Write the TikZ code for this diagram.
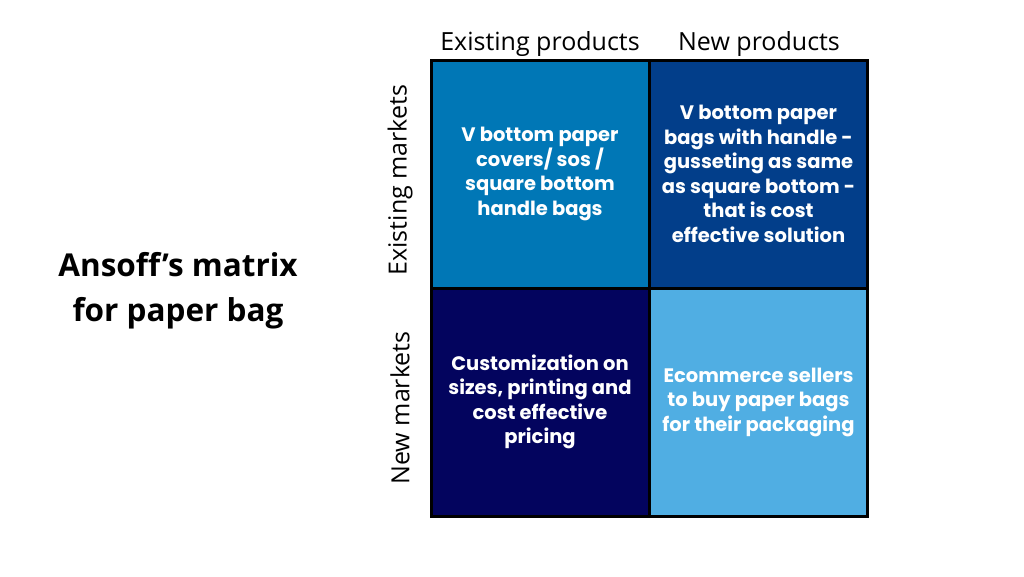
\documentclass[tikz,border=0pt]{standalone}
\usepackage{fontspec}
\setmainfont{Open Sans}
\newfontfamily\cellfont{Poppins}
\definecolor{cTL}{RGB}{0,119,182}
\definecolor{cTR}{RGB}{2,62,138}
\definecolor{cBL}{RGB}{3,4,94}
\definecolor{cBR}{RGB}{80,174,227}
\begin{document}
\begin{tikzpicture}[x=1pt,y=-1pt,
  cell/.style={draw=black,line width=3pt,minimum width=218pt,minimum height=228pt,inner sep=0pt,
    text=white,align=center,font=\cellfont\bfseries\fontsize{19.5}{24.5}\selectfont},
  head/.style={font=\fontsize{25}{28}\selectfont,inner sep=0pt},
  side/.style={font=\fontsize{25}{28}\selectfont,inner sep=0pt,rotate=90}]
\useasboundingbox[fill=white] (0,0) rectangle (1024,576);
\node[cell,fill=cTL] (tl) at (540,174) {V bottom paper\\covers/ sos /\\square bottom\\handle bags};
\node[cell,fill=cTR] (tr) at (758.5,174) {V bottom paper\\bags with handle -\\gusseting as same\\as square bottom -\\that is cost\\effective solution};
\node[cell,fill=cBL] (bl) at (540,402) {Customization on\\sizes, printing and\\cost effective\\pricing};
\node[cell,fill=cBR] (br) at (758.5,402) {Ecommerce sellers\\to buy paper bags\\for their packaging};
\node[head] (hp1) at (540,44) {Existing products};
\node[head] (hp2) at (759,44) {New products};
\node[side] (sm1) at (400,180) {Existing markets};
\node[side] (sm2) at (400,408) {New markets};
\node[font=\bfseries\fontsize{31.5}{45}\selectfont,align=center,inner sep=0pt] (title) at (178,291) {Ansoff’s matrix\\for paper bag};
\end{tikzpicture}
\end{document}
